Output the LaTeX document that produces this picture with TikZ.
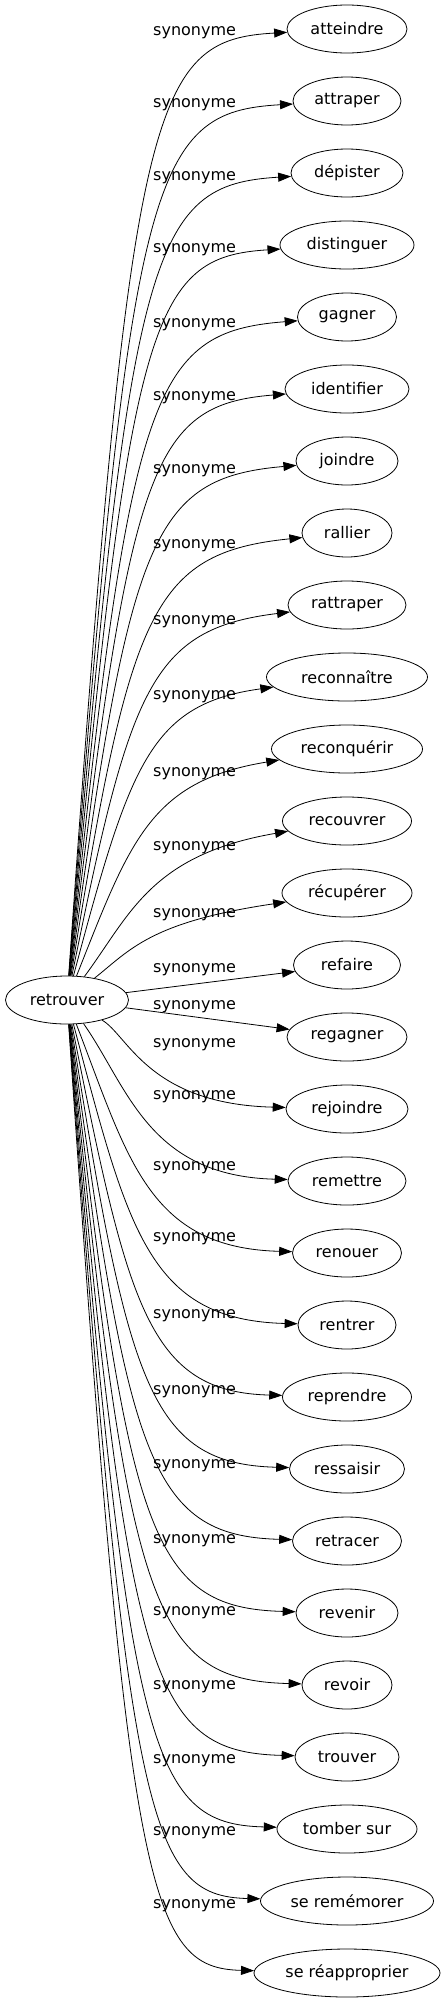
\documentclass[tikz,border=0pt]{standalone}
\usepackage{fontspec}
\setmainfont{DejaVu Sans}
\usetikzlibrary{shapes.geometric,arrows.meta}
\begin{document}
\begin{tikzpicture}[x=1pt, y=-1pt, font=\fontsize{16}{19}\selectfont,
    word/.style={draw, ellipse, inner sep=0pt, minimum height=48pt, line width=0.8pt},
    syn/.style={-{Triangle[length=13pt,width=9pt]}, line width=0.8pt},
    rel/.style={anchor=west, inner sep=0pt}]
    \useasboundingbox (0,0) rectangle (446,2003);
    \node[word, minimum width=123pt] (retrouver) at (67,1000) {retrouver};
    \foreach \i/\w/\lab in {1/120/atteindre, 2/108/attraper, 3/112/dépister,
        4/134/distinguer, 5/99/gagner, 6/124/identifier, 7/102/joindre,
        8/90/rallier, 9/118/rattraper, 10/161/reconnaître, 11/151/reconquérir,
        12/129/recouvrer, 13/130/récupérer, 14/107/refaire, 15/120/regagner,
        16/122/rejoindre, 17/118/remettre, 18/109/renouer, 19/98/rentrer,
        20/129/reprendre, 21/115/ressaisir, 22/109/retracer, 23/102/revenir,
        24/90/revoir, 25/104/trouver, 26/140/tomber sur, 27/173/se remémorer,
        28/186/se réapproprier}
        \node[word, minimum width=\w pt] (t\i) at (347,29+72*\i-72) {\lab};
    % labels
    \foreach \i/\L in {1/33, 2/105, 3/178, 4/250, 5/325, 6/398, 7/471, 8/546,
        9/622, 10/697, 11/774, 12/848, 13/915, 14/970, 15/1007, 16/1045,
        17/1097, 18/1168, 19/1239, 20/1316, 21/1392, 22/1466, 23/1541,
        24/1613, 25/1687, 26/1761, 27/1833, 28/1906}
        \node[rel] (s\i) at (153,\L) {synonyme};
    % upper edges
    \foreach \i/\L in {1/33, 2/105, 3/178, 4/250, 5/325, 6/398, 7/471, 8/546,
        9/622, 10/697, 11/774, 12/848, 13/915}
        \draw[syn] (retrouver) .. controls (130,{min(\L+67,950)}) and (150,\L+7) .. (t\i);
    \draw[syn] (retrouver) -- (t14);
    \draw[syn] (retrouver) -- (t15);
    % lower edges
    \foreach \i/\L in {16/1045, 17/1097, 18/1168, 19/1239, 20/1316, 21/1392,
        22/1466, 23/1541, 24/1613, 25/1687, 26/1761, 27/1833, 28/1906}
        \draw[syn] (retrouver) .. controls (128,\L-10) and (148,29+72*\i-77) .. (t\i);
\end{tikzpicture}
\end{document}
